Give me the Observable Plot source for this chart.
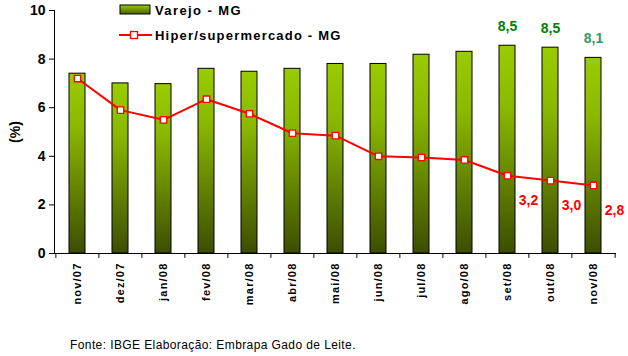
<!DOCTYPE html>
<html>
<head>
<meta charset="utf-8">
<script src="https://cdn.jsdelivr.net/npm/d3@7"></script>
<script src="https://cdn.jsdelivr.net/npm/@observablehq/plot@0.6"></script>
<style>
  body { margin: 0; background: #fff; font-family: "Liberation Sans", Arial, sans-serif; }
  #wrap { position: relative; width: 628px; height: 356px; }
  #legend { position: absolute; left: 0; top: 0; }
  #footer { position: absolute; left: 70px; top: 338px; font-size: 12px; color: #000; letter-spacing: 0.4px; font-family: "Liberation Sans", Arial, sans-serif; }
  .xt text { letter-spacing: 1.2px; }
</style>
</head>
<body>
<div id="wrap">
  <div id="chart"></div>
  <svg id="legend" width="628" height="50"></svg>
  <div id="footer">Fonte: IBGE Elaboração: Embrapa Gado de Leite.</div>
</div>
<script>
const months = ["nov/07","dez/07","jan/08","fev/08","mar/08","abr/08","mai/08","jun/08","jul/08","ago/08","set/08","out/08","nov/08"];
const varejo = [7.4, 7.0, 6.97, 7.6, 7.48, 7.6, 7.8, 7.8, 8.18, 8.3, 8.55, 8.47, 8.05];
const hiper = [7.2, 5.9, 5.5, 6.35, 5.75, 4.95, 4.85, 4.0, 3.95, 3.85, 3.2, 3.0, 2.8];
const varejoLabels = ["", "", "", "", "", "", "", "", "", "", "8,5", "8,5", "8,1"];
const hiperLabels = ["", "", "", "", "", "", "", "", "", "", "3,2", "3,0", "2,8"];
const yTicks = [0, 2, 4, 6, 8, 10];
const seriesNames = ["Varejo - MG", "Hiper/supermercado - MG"];

const data = months.map((m, i) => ({m, v: varejo[i], h: hiper[i], vl: varejoLabels[i], hl: hiperLabels[i], i}));

const W = 628, H = 310, mL = 54, mR = 12, mT = 10, mB = 57;
const step = (W - mL - mR) / months.length;

const chart = Plot.plot({
  width: W, height: H,
  marginTop: mT, marginBottom: mB, marginLeft: mL, marginRight: mR,
  style: {fontFamily: "'Liberation Sans', Arial, sans-serif", overflow: "visible", background: "white"},
  x: {domain: months, paddingInner: 0.62, paddingOuter: 0.31, axis: null},
  y: {domain: [0, 10], axis: null},
  marks: [
    Plot.axisY({ticks: yTicks, tickSize: 5, tickPadding: 4, fontSize: 14, fontWeight: "bold", label: "(%)", labelAnchor: "center", labelArrow: "none", labelOffset: 44, tickFormat: d => d}),
    Plot.axisX({tickSize: 0, tickPadding: 9, tickRotate: -90, fontSize: 11, fontWeight: "bold", label: null, className: "xt"}),
    Plot.barY(data, {x: "m", y: "v", fill: "url(#vgrad)", stroke: "black", strokeWidth: 1}),
    Plot.ruleY([0], {stroke: "black"}),
    Plot.frame({anchor: "left", stroke: "black"}),
    Plot.ruleX(months, {x: d => d, y1: 0, y2: -0.2, dx: -step / 2, stroke: "black", clip: false}),
    Plot.ruleX([months[months.length - 1]], {x: d => d, y1: 0, y2: -0.2, dx: step / 2, stroke: "black"}),
    Plot.line(data, {x: "m", y: "h", stroke: "#ff0000", strokeWidth: 2}),
    Plot.dot(data, {x: "m", y: "h", symbol: "square", r: 3.6, fill: "white", stroke: "#ff0000", strokeWidth: 1.3}),
    Plot.text(data, {x: "m", y: "v", text: "vl", dy: -19, fontSize: 14, fontWeight: "bold", fill: d => d.i === 12 ? "#339966" : "#008000"}),
    Plot.text(data, {x: "m", y: "h", text: "hl", dx: 21, dy: 25, fontSize: 14, fontWeight: "bold", fill: "#ff0000"})
  ]
});

const svgSel = d3.select(chart);
svgSel.selectAll(".xt text").attr("letter-spacing", 1.2);
const defs = svgSel.insert("defs", ":first-child");
const g = defs.append("linearGradient").attr("id", "vgrad").attr("x1", 0).attr("y1", 0).attr("x2", 0).attr("y2", 1);
g.append("stop").attr("offset", "0%").attr("stop-color", "#99cc00");
g.append("stop").attr("offset", "30%").attr("stop-color", "#8ab800");
g.append("stop").attr("offset", "100%").attr("stop-color", "#3d4d00");
document.getElementById("chart").appendChild(chart);

const lg = d3.select("#legend");
const lgDefs = lg.append("defs").append("linearGradient").attr("id", "lgrad").attr("x1", 0).attr("y1", 0).attr("x2", 0).attr("y2", 1);
lgDefs.append("stop").attr("offset", "0%").attr("stop-color", "#99cc00");
lgDefs.append("stop").attr("offset", "100%").attr("stop-color", "#4a6000");
lg.append("rect").attr("x", 120).attr("y", 5).attr("width", 30).attr("height", 9).attr("fill", "url(#lgrad)").attr("stroke", "black");
lg.append("text").attr("x", 155).attr("y", 15).text(seriesNames[0])
  .attr("font-size", 13).attr("font-weight", "bold").attr("letter-spacing", 1.4).attr("font-family", "'Liberation Sans', Arial");
lg.append("line").attr("x1", 119).attr("x2", 152).attr("y1", 35).attr("y2", 35).attr("stroke", "#ff0000").attr("stroke-width", 2);
lg.append("rect").attr("x", 130.5).attr("y", 31.5).attr("width", 7).attr("height", 7).attr("fill", "white").attr("stroke", "#ff0000").attr("stroke-width", 1.3);
lg.append("text").attr("x", 155).attr("y", 40).text(seriesNames[1])
  .attr("font-size", 13).attr("font-weight", "bold").attr("letter-spacing", 1.2).attr("font-family", "'Liberation Sans', Arial");
</script>
</body>
</html>
